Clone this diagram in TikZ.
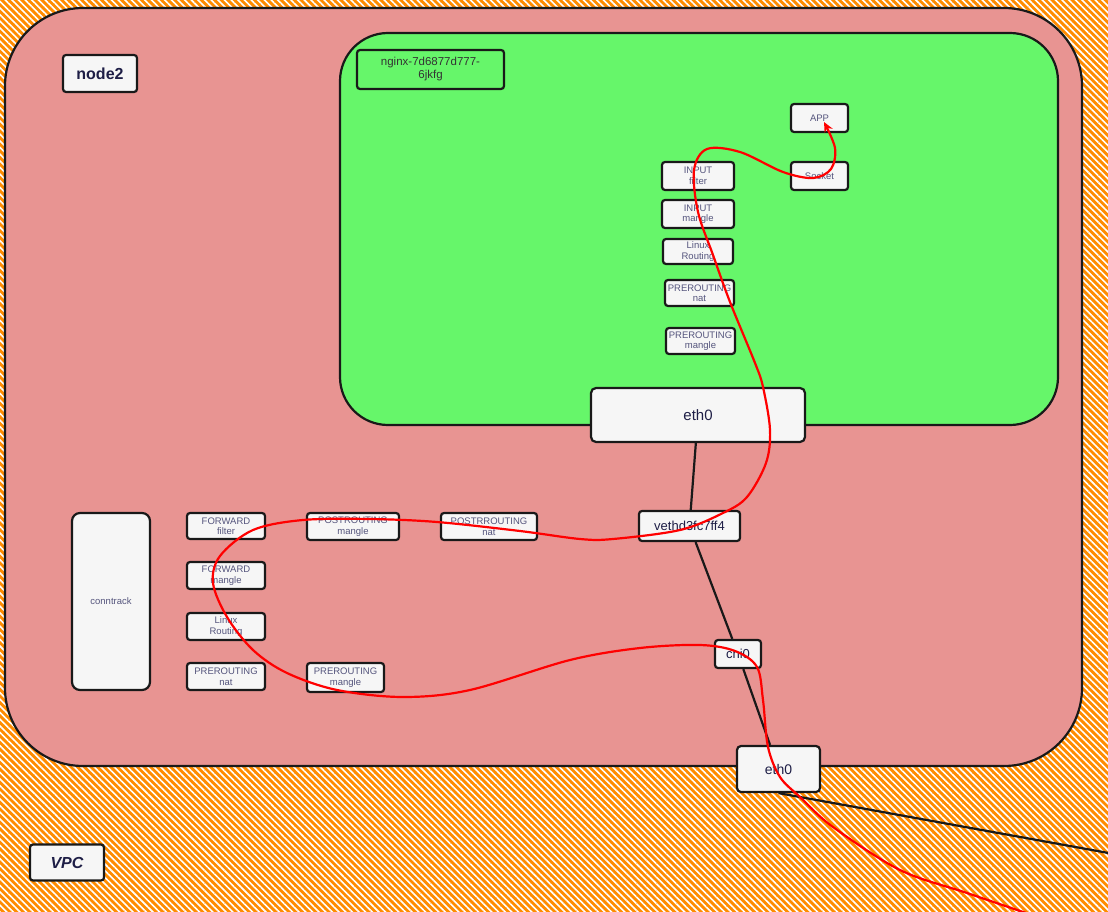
\documentclass[tikz,border=0pt]{standalone}
\usepackage{fontspec}
\setmainfont{Liberation Sans}
\usetikzlibrary{patterns.meta,arrows.meta}
\definecolor{vpcorange}{RGB}{255,140,0}
\definecolor{nodepink}{RGB}{232,148,146}
\definecolor{podgreen}{RGB}{102,246,106}
\definecolor{boxfill}{RGB}{246,246,246}
\definecolor{labelink}{RGB}{30,30,70}
\definecolor{smallink}{RGB}{85,85,125}
\pgfdeclarelayer{bg}
\pgfdeclarelayer{wires}
\pgfsetlayers{bg,wires,main}
\tikzset{
  box/.style={draw=black!90, line width=2.2pt, fill=boxfill, rounded corners=3pt, inner sep=0pt, align=center},
  smallbox/.style={box, font=\fontsize{9.5}{10.5}\selectfont, text=smallink},
  bigbox/.style={box, text=labelink},
  wire/.style={draw=black!90, line width=2.2pt},
  flow/.style={draw=red, line width=2.2pt, -{Stealth[length=10pt,width=9pt]}},
  area/.style={draw=black!90, line width=2.2pt},
}
\begin{document}
\begin{tikzpicture}[x=1pt,y=-1pt]
\useasboundingbox (0,0) rectangle (1108,912);
\begin{pgfonlayer}{bg}
  % VPC hatched background
  \fill[vpcorange] (0,0) rectangle (1108,912);
  \fill[pattern={Lines[angle=-45,distance=4.7pt,line width=1.6pt]}, pattern color=white] (0,0) rectangle (1108,912);
  % node2 area
  \path[area, fill=nodepink, rounded corners=78pt] (5,8) rectangle (1082,766);
  % pod area
  \path[area, fill=podgreen, rounded corners=48pt] (340,33) rectangle (1058,425);
\end{pgfonlayer}

% labels
\node[bigbox, font=\bfseries\fontsize{16}{18}\selectfont, minimum width=74pt, minimum height=37pt] (node2) at (100,73.5) {node2};
\node[bigbox, font=\bfseries\itshape\fontsize{16}{18}\selectfont, minimum width=74pt, minimum height=36pt] (vpc) at (67,862.5) {VPC};
\node[box, fill=podgreen, text=black!80, font=\fontsize{11.5}{13}\selectfont, minimum width=147pt, minimum height=39pt] (podname) at (430.5,69.5) {nginx-7d6877d777-\\6jkfg};

% pod boxes
\node[smallbox, minimum width=57pt, minimum height=28pt] (app) at (819.5,118) {APP};
\node[smallbox, minimum width=57pt, minimum height=28pt] (socket) at (819.5,176) {Socket};
\node[smallbox, minimum width=72pt, minimum height=28pt] (pinf) at (698,176) {INPUT\\filter};
\node[smallbox, minimum width=72pt, minimum height=28pt] (pinm) at (698,214) {INPUT\\mangle};
\node[smallbox, minimum width=70pt, minimum height=25pt] (plr) at (698,251.5) {Linux\\Routing};
\node[smallbox, minimum width=69pt, minimum height=26pt] (ppn) at (699.5,293) {PREROUTING\\nat};
\node[smallbox, minimum width=69pt, minimum height=26pt] (ppm) at (700.5,341) {PREROUTING\\mangle};
\node[bigbox, font=\fontsize{15}{17}\selectfont, rounded corners=5pt, minimum width=214pt, minimum height=54pt] (epod) at (698,415) {eth0};

% node boxes
\node[bigbox, font=\fontsize{13}{15}\selectfont, minimum width=101pt, minimum height=30pt] (veth) at (689.5,526) {vethd3fc7ff4};
\node[bigbox, font=\fontsize{13}{15}\selectfont, minimum width=46pt, minimum height=28pt] (cni) at (738,654) {cni0};
\node[bigbox, font=\fontsize{14}{16}\selectfont, rounded corners=4pt, minimum width=83pt, minimum height=46pt] (enode) at (778.5,769) {eth0};
\node[smallbox, rounded corners=8pt, minimum width=78pt, minimum height=177pt] (ct) at (111,601.5) {conntrack};
\node[smallbox, minimum width=78pt, minimum height=26pt] (ff) at (226,526) {FORWARD\\filter};
\node[smallbox, minimum width=78pt, minimum height=27pt] (fm) at (226,575.5) {FORWARD\\mangle};
\node[smallbox, minimum width=78pt, minimum height=27pt] (lr) at (226,626.5) {Linux\\Routing};
\node[smallbox, minimum width=78pt, minimum height=27pt] (pn) at (226,676.5) {PREROUTING\\nat};
\node[smallbox, minimum width=92pt, minimum height=27pt] (pom) at (353,526.5) {POSTROUTING\\mangle};
\node[smallbox, minimum width=96pt, minimum height=27pt] (pon) at (489,526.5) {POSTRROUTING\\nat};
\node[smallbox, minimum width=77pt, minimum height=29pt] (pm) at (345.5,677.5) {PREROUTING\\mangle};

\coordinate (far) at (1125,856);
\begin{pgfonlayer}{wires}
  \draw[wire] (epod) -- (veth);
  \draw[wire] (veth) -- (cni);
  \draw[wire] (cni) -- (enode);
  \draw[wire] (enode.south) -- (far);
\end{pgfonlayer}

% packet flow
\draw[flow] plot[smooth, tension=0.55] coordinates {
  (1035,916) (967,893) (900,870) (833,827) (800,797) (780,777) (768,747)
  (763,700) (757,667) (735,651) (700,645) (640,648) (570,660) (470,690)
  (403,697) (337,690) (287,673) (253,650) (227,617) (213,583) (220,556)
  (253,530) (303,520) (370,519) (437,522) (520,531) (580,539) (613,539)
  (680,530) (723,513) (747,497) (766,463) (770,430) (763,387) (755,363)
  (730,302) (713,255) (698,212) (694,170) (707,149) (740,152) (783,172)
  (813,178) (831,169) (835,148) (824,122)};
\end{tikzpicture}
\end{document}
